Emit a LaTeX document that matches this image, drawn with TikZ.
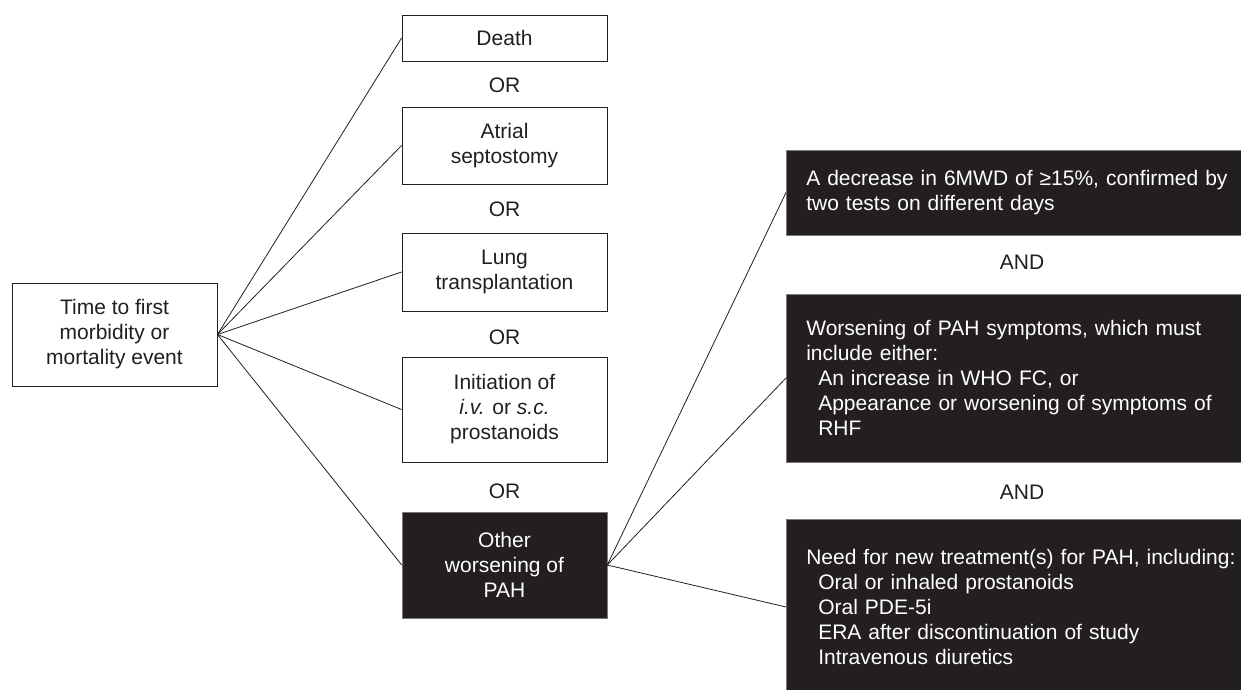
\documentclass[tikz,border=0pt]{standalone}
\usepackage{fontspec}
\setmainfont{Liberation Sans}
\definecolor{ink}{HTML}{231F20}
\begin{document}
\begin{tikzpicture}[x=1pt,y=-1pt,
  every node/.style={font=\fontsize{21}{25}\selectfont, text=ink},
  wbox/.style={draw=ink, line width=0.9pt, fill=white, rectangle, align=center, minimum width=205pt, inner sep=0pt},
  bbox/.style={draw=ink!60, line width=0.6pt, fill=ink, rectangle, align=center, minimum width=205pt, inner sep=0pt, text=white},
  rbox/.style={draw=ink!60, line width=0.6pt, fill=ink, rectangle, anchor=west, align=left, text width=432pt, inner xsep=20pt, inner ysep=0pt, text=white},
  conn/.style={draw=ink, line width=0.8pt},
  lbl/.style={inner sep=0pt}
]
\useasboundingbox (0,0) rectangle (1241,689);
\fill[white] (0,0) rectangle (1241,689);

\node[wbox, minimum height=103pt] (start) at (114.5,334.5) {Time to first\\morbidity or\\mortality event};

\node[wbox, minimum height=46pt] (death) at (504.5,38) {Death};
\node[lbl] (or1) at (504.5,85) {OR};
\node[wbox, minimum height=77pt] (atrial) at (504.5,145.5) {Atrial\\septostomy};
\node[lbl] (or2) at (504.5,209) {OR};
\node[wbox, minimum height=78pt] (lung) at (504.5,272) {Lung\\transplantation};
\node[lbl] (or3) at (504.5,337) {OR};
\node[wbox, minimum height=105pt] (init) at (504.5,409.5) {Initiation of\\\textit{i.v.} or \textit{s.c.}\\prostanoids};
\node[lbl] (or4) at (504.5,491) {OR};
\node[bbox, minimum height=106pt] (other) at (504.5,565) {Other\\worsening of\\PAH};

\node[rbox, minimum height=85pt] (dec) at (786,192.5) {A decrease in 6MWD of ≥15\%, confirmed by\\two tests on different days};
\node[lbl] (and1) at (1022,262) {AND};
\node[rbox, minimum height=168pt] (wors) at (786,378) {Worsening of PAH symptoms, which must\\include either:\\\hspace*{12pt}An increase in WHO FC, or\\\hspace*{12pt}Appearance or worsening of symptoms of\\\hspace*{12pt}RHF};
\node[lbl] (and2) at (1022,492) {AND};
\node[rbox, minimum height=176pt] (need) at (786,607) {Need for new treatment(s) for PAH, including:\\\hspace*{12pt}Oral or inhaled prostanoids\\\hspace*{12pt}Oral PDE-5i\\\hspace*{12pt}ERA after discontinuation of study\\\hspace*{12pt}Intravenous diuretics};

\foreach \t in {death,atrial,lung,init,other}
  \draw[conn] (start.east) -- (\t.west);
\foreach \t in {dec,wors,need}
  \draw[conn] (other.east) -- (\t.west);
\end{tikzpicture}
\end{document}
